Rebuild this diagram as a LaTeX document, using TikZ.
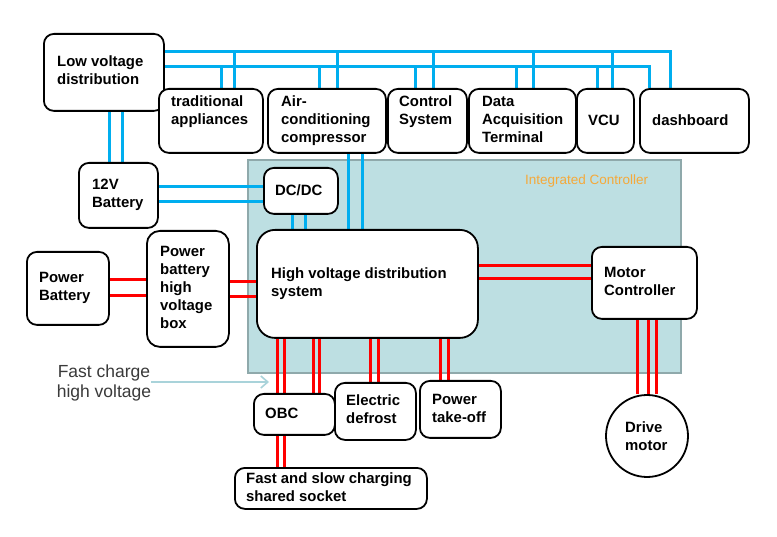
\documentclass[tikz,border=0pt]{standalone}
\usepackage{fontspec}
\setmainfont{Liberation Sans}
\usetikzlibrary{backgrounds,arrows.meta}
\definecolor{blu}{HTML}{00AEEF}
\definecolor{icfill}{HTML}{BDDFE2}
\definecolor{icedge}{HTML}{8FA9AB}
\definecolor{ictext}{HTML}{F5A93A}
\definecolor{arrowc}{HTML}{A9D3DA}
\definecolor{fcgray}{HTML}{3A3A3A}
\begin{document}
\begin{tikzpicture}[x=1pt,y=-1pt,
 box/.style={draw=black, line width=1.8pt, rounded corners=10pt, fill=white, anchor=north west, inner sep=0pt},
 txt/.style={anchor=base west, align=left, inner sep=0pt, font=\fontsize{14.9}{18}\selectfont\bfseries},
 bl/.style={draw=blu, line width=3pt},
 rd/.style={draw=red, line width=3pt}]
\useasboundingbox (0,0) rectangle (777,537);

% boxes
\node[box, minimum width=120pt, minimum height=77pt] (lv) at (43,33) {};
\node[box, minimum width=104pt, minimum height=64pt] (trad) at (158,88) {};
\node[box, minimum width=118pt, minimum height=64pt] (air) at (267,88) {};
\node[box, minimum width=79pt, minimum height=64pt] (ctrl) at (387,88) {};
\node[box, minimum width=107pt, minimum height=64pt] (data) at (468,88) {};
\node[box, minimum width=57pt, minimum height=64pt] (vcu) at (576,88) {};
\node[box, minimum width=109pt, minimum height=64pt] (dash) at (639,88) {};
\node[box, minimum width=79pt, minimum height=65pt] (bat) at (78,162) {};
\node[box, minimum width=74pt, minimum height=46pt] (dcdc) at (263,167) {};
\node[box, rounded corners=18pt, minimum width=221pt, minimum height=108pt] (hv) at (256,229) {};
\node[box, minimum width=82pt, minimum height=73pt] (pbat) at (26,251) {};
\node[box, rounded corners=13pt, minimum width=82pt, minimum height=116pt] (pbox) at (146,230) {};
\node[box, minimum width=105pt, minimum height=72pt] (mc) at (591,246) {};
\node[box, minimum width=81pt, minimum height=41pt] (obc) at (253,393) {};
\node[box, minimum width=81pt, minimum height=57pt] (def) at (334,382) {};
\node[box, minimum width=81pt, minimum height=57pt] (pto) at (419,380) {};
\node[box, minimum width=192pt, minimum height=41pt] (sock) at (234,467) {};
\node[draw=black, line width=1.8pt, fill=white, circle, minimum size=82pt, inner sep=0pt] (dm) at (647,436) {};

% texts (anchor = baseline of last line)
\node[txt] (lvt) at (57,85) {Low voltage\\distribution};
\node[txt] (tradt) at (171,125) {traditional\\appliances};
\node[txt] (airt) at (281,143) {Air-\\conditioning\\compressor};
\node[txt] (ctrlt) at (399,125) {Control\\System};
\node[txt] (datat) at (482,143) {Data\\Acquisition\\Terminal};
\node[txt] (vcut) at (588,126) {VCU};
\node[txt] (dasht) at (652,126) {dashboard};
\node[txt] (batt) at (92,208) {12V\\Battery};
\node[txt] (dcdct) at (275,196) {DC/DC};
\node[txt] (hvt) at (271,297) {High voltage distribution\\system};
\node[txt] (pbatt) at (39,301) {Power\\Battery};
\node[txt] (pboxt) at (160,329) {Power\\battery\\high\\voltage\\box};
\node[txt] (mct) at (604,296) {Motor\\Controller};
\node[txt] (obct) at (265,418) {OBC};
\node[txt] (deft) at (346,424) {Electric\\defrost};
\node[txt] (ptot) at (432,423) {Power\\take-off};
\node[txt] (sockt) at (246,501) {Fast and slow charging\\shared socket};
\node[txt] (dmt) at (625,450) {Drive\\motor};
\node[anchor=base west, inner sep=0pt, font=\fontsize{13.5}{16}\selectfont, text=ictext] (ict) at (525,185) {Integrated Controller};
\node[anchor=base, align=center, inner sep=0pt, font=\fontsize{17.5}{20}\selectfont, text=fcgray] (fc) at (104,398) {Fast charge\\ high voltage};
\coordinate (fcend) at (269,382);
\coordinate (bus1) at (0,52);
\coordinate (bus2) at (0,67);

\begin{pgfonlayer}{background}
\fill[white] (0,0) rectangle (777,537);
\fill[icfill, draw=icedge, line width=1.5pt] (248,160) rectangle (681,373);
% blue buses
\draw[bl] (lv.east |- bus1) -- (670,0 |- bus1) -- (670,0 |- dash.north);
\draw[bl] (lv.east |- bus2) -- (649,0 |- bus2) -- (649,0 |- dash.north);
\foreach \x/\n in {234/trad,337/air,433/ctrl,533/data,612/vcu}
  \draw[bl] (\x,0 |- bus1) -- (\x,0 |- \n.north);
\foreach \x/\n in {221/trad,319/air,415/ctrl,516/data,597/vcu}
  \draw[bl] (\x,0 |- bus2) -- (\x,0 |- \n.north);
\foreach \x in {109,122} \draw[bl] (\x,0 |- lv.south) -- (\x,0 |- bat.north);
\foreach \y in {187,202} \draw[bl] (bat.east |- 0,\y) -- (dcdc.west |- 0,\y);
\foreach \x in {292,305} \draw[bl] (\x,0 |- dcdc.south) -- (\x,0 |- hv.north);
\foreach \x in {348,362} \draw[bl] (\x,0 |- air.south) -- (\x,0 |- hv.north);
% red
\foreach \y in {280,296} \draw[rd] (pbat.east |- 0,\y) -- (pbox.west |- 0,\y);
\foreach \y in {282,297} \draw[rd] (pbox.east |- 0,\y) -- (hv.west |- 0,\y);
\foreach \y in {266,279} \draw[rd] (hv.east |- 0,\y) -- (mc.west |- 0,\y);
\foreach \x in {637,648,656} \draw[rd] (\x,0 |- mc.south) -- (\x,0 |- dm.north);
\foreach \x in {277,284,313,319} \draw[rd] (\x,0 |- hv.south) -- (\x,0 |- obc.north);
\foreach \x in {370,378} \draw[rd] (\x,0 |- hv.south) -- (\x,0 |- def.north);
\foreach \x in {440,448} \draw[rd] (\x,0 |- hv.south) -- (\x,0 |- pto.north);
\foreach \x in {277,284} \draw[rd] (\x,0 |- obc.south) -- (\x,0 |- sock.north);
\end{pgfonlayer}
\draw[arrowc, line width=1.6pt, -{Straight Barb[length=7pt,width=12pt]}] (fc.east |- fcend) -- (fcend);
\end{tikzpicture}
\end{document}
